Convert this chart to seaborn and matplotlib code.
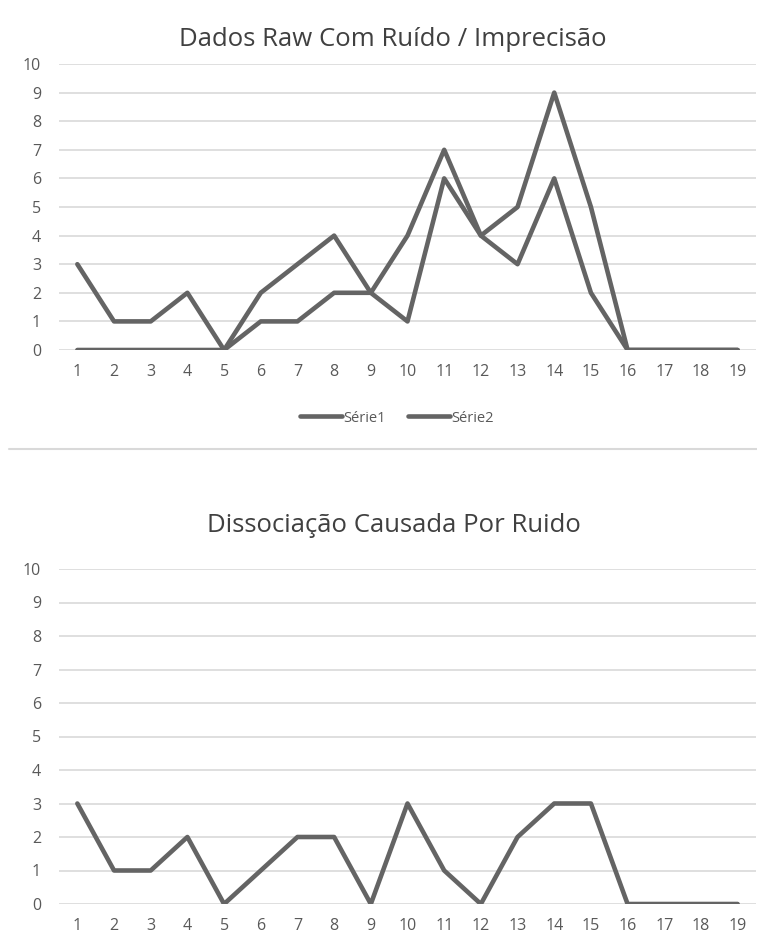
import numpy as np
import pandas as pd
import matplotlib
matplotlib.use("Agg")
import matplotlib.pyplot as plt
import seaborn as sns

# Data
categories = list(range(1, 20))
serie1 = [3, 1, 1, 2, 0, 2, 3, 4, 2, 4, 7, 4, 5, 9, 5, 0, 0, 0, 0]
serie2 = [0, 0, 0, 0, 0, 1, 1, 2, 2, 1, 6, 4, 3, 6, 2, 0, 0, 0, 0]
dissociacao = [3, 1, 1, 2, 0, 1, 2, 2, 0, 3, 1, 0, 2, 3, 3, 0, 0, 0, 0]

title_top = "Dados Raw Com Ruído / Imprecisão"
title_bottom = "Dissociação Causada Por Ruido"
legend_names = ["Série1", "Série2"]

sns.set_style("white")
plt.rcParams["font.family"] = ["Open Sans", "DejaVu Sans"]

LINE = "#646464"
GRID = "#d9d9d9"
TICK = "#595959"
TITLE = "#404040"

W, H = 757, 949
fig = plt.figure(figsize=(W / 100, H / 100), dpi=100)


def px_axes(x0, x1, ytop, ybot):
    return fig.add_axes([x0 / W, 1 - ybot / H, (x1 - x0) / W, (ybot - ytop) / H])


def style(ax):
    ax.set_xlim(0.5, 19.5)
    ax.set_ylim(0, 10)
    ax.set_yticks(range(0, 11))
    ax.set_xticks(categories)
    ax.yaxis.grid(True, color=GRID, linewidth=1.2)
    ax.set_axisbelow(True)
    for s in ax.spines.values():
        s.set_visible(False)
    ax.tick_params(length=0, labelsize=11.5, labelcolor=TICK)
    ax.tick_params(axis="y", pad=13)
    ax.tick_params(axis="x", pad=10)
    ax.set_xlabel("")
    ax.set_ylabel("")


# Top panel
df_top = pd.DataFrame({
    "x": categories * 2,
    "y": serie1 + serie2,
    "serie": [legend_names[0]] * len(categories) + [legend_names[1]] * len(categories),
})
ax1 = px_axes(59, 756, 64, 350)
sns.lineplot(data=df_top, x="x", y="y", hue="serie",
             palette=[LINE, LINE], linewidth=3.3, ax=ax1, legend=False)
style(ax1)
fig.text(393 / W, 1 - 40 / H, title_top, ha="center", va="center",
         fontsize=18.5, color=TITLE)

handles = [plt.Line2D([], [], color=LINE, linewidth=3.3) for _ in legend_names]
fig.legend(handles, legend_names, loc="center", bbox_to_anchor=(397 / W, 1 - 418 / H),
           ncol=2, frameon=False, fontsize=10.5, labelcolor=TICK,
           handlelength=2.9, handletextpad=0.1, columnspacing=1.5)

# Separator between panels
fig.add_artist(plt.Line2D([9 / W, 1.0], [1 - 449 / H, 1 - 449 / H],
                          color=GRID, linewidth=1.5))

# Bottom panel
df_bot = pd.DataFrame({"x": categories, "y": dissociacao})
ax2 = px_axes(59, 756, 569, 904)
sns.lineplot(data=df_bot, x="x", y="y", color=LINE, linewidth=3.3, ax=ax2)
style(ax2)
fig.text(394 / W, 1 - 525 / H, title_bottom, ha="center", va="center",
         fontsize=18.5, color=TITLE)

fig.savefig("out.png", dpi=100)
